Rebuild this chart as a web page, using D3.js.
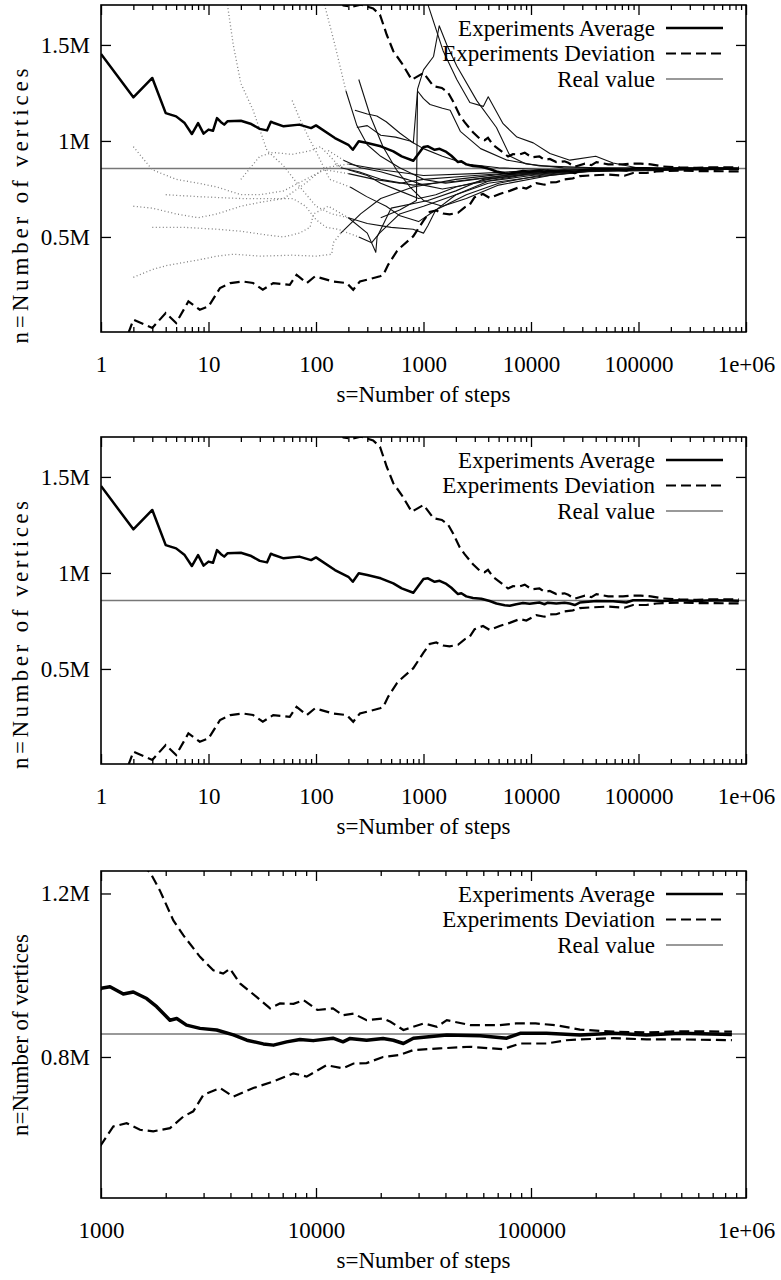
<!DOCTYPE html>
<html>
<head>
<meta charset="utf-8">
<script src="https://cdn.jsdelivr.net/npm/d3@7"></script>
<style>
  body { margin: 0; background: #fff; }
  svg { display: block; font-family: "Liberation Serif", "Times New Roman", serif; }
</style>
</head>
<body>
<svg id="chart"></svg>
<script>
const width = 781;
const height = 1280;
const left = 101;
const right = 746;
const plotH = 327;

// values in millions of vertices, s = number of steps
const realValue = 0.856;

const average = [
  [1, 1.453], [2, 1.227], [3, 1.328], [4, 1.145], [5, 1.128], [6, 1.093], [7, 1.036], [8, 1.093],
  [9, 1.038], [10, 1.059], [11, 1.053], [12, 1.119], [13, 1.099], [14, 1.085], [15, 1.102], [20, 1.105],
  [25, 1.088], [30, 1.063], [35, 1.055], [38, 1.10], [40, 1.095], [50, 1.076], [70, 1.085], [90, 1.067],
  [100, 1.081], [150, 1.015], [200, 0.980], [220, 0.954], [250, 0.998], [300, 0.989], [400, 0.972],
  [524, 0.946], [627, 0.920], [804, 0.897], [1000, 0.968], [1101, 0.972], [1270, 0.954], [1413, 0.959],
  [1631, 0.943], [1816, 0.923], [2093, 0.890], [2250, 0.894], [2500, 0.878], [2887, 0.870], [3450, 0.866],
  [4130, 0.854], [4767, 0.841], [5690, 0.832], [6340, 0.829], [7300, 0.837], [8420, 0.843], [9700, 0.840],
  [11990, 0.846], [13350, 0.837], [14340, 0.845], [17190, 0.841], [20500, 0.845], [22900, 0.841],
  [25500, 0.833], [28370, 0.846], [40600, 0.854], [58000, 0.852], [77100, 0.846], [89000, 0.858],
  [118000, 0.858], [169000, 0.854], [241700, 0.858], [345000, 0.854], [493000, 0.858], [860000, 0.855]
];

const deviationUpper = [
  [150, 1.80], [180, 1.705], [220, 1.70], [260, 1.71], [300, 1.70], [340, 1.69], [394, 1.657], [455, 1.553],
  [524, 1.467], [627, 1.406], [777, 1.319], [1000, 1.354], [1240, 1.285], [1483, 1.276], [1690, 1.252],
  [1880, 1.207], [2170, 1.134], [2413, 1.098], [2887, 1.045], [3330, 1.012], [3700, 1.004], [3980, 1.016],
  [4430, 0.980], [5290, 0.947], [6120, 0.919], [6800, 0.931], [7860, 0.930], [8750, 0.939], [10150, 0.915],
  [11990, 0.919], [13350, 0.902], [14950, 0.906], [17190, 0.890], [20500, 0.894], [22200, 0.886],
  [25500, 0.866], [31700, 0.882], [36500, 0.874], [40600, 0.890], [52200, 0.878], [71600, 0.878],
  [85000, 0.882], [105000, 0.882], [130000, 0.878], [169000, 0.867], [241700, 0.862], [345000, 0.860],
  [493000, 0.863], [860000, 0.862]
];

const deviationLower = [
  [1.8, 0.0], [2, 0.069], [3, 0.026], [4, 0.104], [5, 0.052], [6.5, 0.164], [8.3, 0.121], [10, 0.138],
  [12.8, 0.234], [16, 0.260], [21, 0.268], [26, 0.26], [32, 0.225], [40, 0.260], [57, 0.251], [66, 0.303],
  [82, 0.26], [98, 0.295], [144, 0.268], [193, 0.26], [222, 0.225], [256, 0.268], [394, 0.295], [423, 0.303],
  [470, 0.356], [564, 0.425], [605, 0.443], [804, 0.504], [1000, 0.585], [1141, 0.630], [1316, 0.638],
  [1518, 0.622], [1750, 0.618], [2093, 0.626], [2413, 0.654], [2686, 0.667], [2990, 0.707], [3580, 0.724],
  [4130, 0.703], [5110, 0.724], [6340, 0.740], [7860, 0.760], [9050, 0.752], [11210, 0.780], [13350, 0.772],
  [14950, 0.784], [17190, 0.785], [20500, 0.800], [24500, 0.805], [28400, 0.817], [37500, 0.821],
  [52200, 0.825], [74000, 0.819], [89000, 0.833], [118000, 0.833], [146000, 0.841], [169000, 0.843],
  [241700, 0.846], [345000, 0.843], [493000, 0.843], [860000, 0.841]
];

// single experiments (top panel only)
const exp1 = [[2, 0.29], [3, 0.33], [4, 0.35], [5, 0.36], [8, 0.38], [12, 0.40], [17, 0.41], [30, 0.40], [60, 0.405], [100, 0.40], [140, 0.41], [145, 0.47], [170, 0.52], [260, 0.62], [400, 0.70], [800, 0.76], [2000, 0.80], [6000, 0.83], [30000, 0.85], [200000, 0.855], [860000, 0.856]];
const exp2 = [[3, 0.55], [6, 0.55], [12, 0.54], [20, 0.53], [35, 0.51], [50, 0.50], [70, 0.52], [88, 0.55], [95, 0.62], [130, 0.66], [200, 0.60], [300, 0.52], [360, 0.42], [370, 0.50], [500, 0.65], [1100, 0.69], [2000, 0.74], [3600, 0.80], [10000, 0.83], [40000, 0.85], [860000, 0.855]];
const exp3 = [[4, 0.72], [8, 0.71], [20, 0.70], [40, 0.70], [61, 0.70], [80, 0.66], [100, 0.59], [125, 0.55], [160, 0.54], [250, 0.50], [330, 0.47], [390, 0.52], [600, 0.62], [1000, 0.66], [2000, 0.72], [4000, 0.78], [10000, 0.81], [30000, 0.84], [860000, 0.853]];
const exp4 = [[60, 1.21], [70, 1.12], [85, 1.02], [101, 0.94], [134, 0.80], [208, 0.76], [296, 0.71], [450, 0.66], [605, 0.61], [900, 0.58], [1300, 0.64], [2500, 0.72], [5000, 0.78], [12000, 0.82], [40000, 0.845], [860000, 0.856]];
const exp5 = [[250, 1.32], [320, 1.13], [420, 0.97], [560, 0.85], [750, 0.76], [1000, 0.69], [1500, 0.66], [2500, 0.70], [5000, 0.77], [15000, 0.82], [50000, 0.85], [860000, 0.857]];
const exp6 = [[240, 1.07], [300, 1.08], [400, 1.03], [550, 1.02], [750, 1.00], [1000, 0.96], [1500, 0.92], [2500, 0.88], [5000, 0.86], [15000, 0.85], [860000, 0.856]];
const exp7 = [[1100, 1.71], [1520, 1.47], [2040, 1.32], [2700, 1.20], [3600, 1.18], [4000, 1.23], [5500, 1.09], [7400, 1.02], [10500, 0.99], [15000, 0.935], [23000, 0.90], [40000, 0.92], [58000, 0.885], [120000, 0.85], [300000, 0.86], [860000, 0.858]];
const exp8 = [[400, 0.60], [600, 0.64], [860, 0.69], [880, 1.27], [1000, 1.37], [1240, 1.44], [1400, 1.60], [1650, 1.50], [2040, 1.39], [3130, 1.21], [4770, 1.07], [6400, 0.92], [9000, 0.88], [20000, 0.86], [860000, 0.856]];
const exp9 = [[230, 1.16], [300, 1.14], [368, 1.13], [450, 1.10], [605, 1.04], [804, 0.99], [880, 1.26], [1000, 1.22], [1150, 1.19], [1500, 1.17], [1770, 1.16], [2200, 1.05], [3400, 0.96], [6000, 0.90], [12000, 0.87], [40000, 0.86], [860000, 0.856]];
const exp10 = [[150, 0.88], [200, 0.85], [300, 0.82], [400, 0.78], [600, 0.74], [900, 0.70], [1300, 0.72], [2000, 0.76], [4000, 0.80], [10000, 0.83], [40000, 0.85], [860000, 0.856]];
const exp11 = [[130, 0.95], [180, 0.90], [260, 0.86], [400, 0.84], [700, 0.80], [1000, 0.77], [1500, 0.75], [3000, 0.78], [8000, 0.82], [30000, 0.845], [860000, 0.856]];
const exp12 = [[20, 0.80], [30, 0.92], [40, 0.94], [60, 0.93], [90, 0.95], [110, 0.97], [130, 0.93], [170, 0.86], [250, 0.84], [400, 0.80], [800, 0.77], [2000, 0.79], [8000, 0.83], [30000, 0.85], [860000, 0.856]];
const exp13 = [[15, 1.71], [17, 1.50], [20, 1.30], [26, 1.16], [35, 0.95], [50, 0.87], [71, 0.76], [100, 0.66], [140, 0.62], [200, 0.60], [300, 0.57], [500, 0.55], [800, 0.54], [1000, 0.52], [1100, 0.56], [1300, 0.64], [2000, 0.72], [4000, 0.79], [10000, 0.82], [40000, 0.85], [860000, 0.855]];
const exp14 = [[120, 1.71], [150, 1.50], [190, 1.26], [240, 1.08], [300, 0.98], [400, 0.92], [600, 0.86], [1000, 0.80], [1600, 0.78], [3000, 0.80], [8000, 0.83], [30000, 0.85], [860000, 0.857]];
const exp15 = [[2, 0.97], [3, 0.85], [5, 0.80], [8, 0.78], [12, 0.76], [20, 0.72], [30, 0.72], [50, 0.74], [80, 0.80], [120, 0.85], [200, 0.83], [350, 0.80], [600, 0.78], [1000, 0.80], [3000, 0.82], [10000, 0.84], [860000, 0.856]];
const exp16 = [[2, 0.66], [3, 0.65], [5, 0.62], [8, 0.60], [12, 0.62], [20, 0.66], [30, 0.68], [50, 0.70], [80, 0.78], [120, 0.86], [200, 0.88], [400, 0.85], [1000, 0.82], [3000, 0.83], [10000, 0.845], [860000, 0.856]];
const experiments = [exp1, exp2, exp3, exp4, exp5, exp6, exp7, exp8, exp9, exp10, exp11, exp12, exp13, exp14, exp15, exp16];

const legendLabels = ['Experiments Average', 'Experiments Deviation', 'Real value'];
const xTitle = 's=Number of steps';
const yTitle = 'n=Number of vertices';

const panels = [
  { top: 5, xDomain: [1, 1e6], yDomain: [0.005, 1.708], xTicks: [1, 10, 100, 1000, 10000, 100000, 1e6],
    yTicks: [0.5, 1, 1.5], showExperiments: true, titleCenter: 206, titleLength: 275, avgWidth: 2.5 },
  { top: 437, xDomain: [1, 1e6], yDomain: [0.005, 1.708], xTicks: [1, 10, 100, 1000, 10000, 100000, 1e6],
    yTicks: [0.5, 1, 1.5], showExperiments: false, titleCenter: 635, titleLength: 268, avgWidth: 2.5 },
  { top: 871, xDomain: [1000, 1e6], yDomain: [0.455, 1.255], xTicks: [1000, 10000, 100000, 1e6],
    yTicks: [0.8, 1.2], showExperiments: false, titleCenter: 1035, titleLength: null, avgWidth: 3.5 }
];

const xFormat = d => d === 1e6 ? '1e+06' : String(d);
const yFormat = d => d + 'M';

const svg = d3.select('#chart')
    .attr('width', width)
    .attr('height', height);

svg.append('rect').attr('width', width).attr('height', height).attr('fill', '#fff');

panels.forEach((p, i) => {
    const top = p.top;
    const bottom = top + plotH;
    const x = d3.scaleLog().domain(p.xDomain).range([left, right]);
    const y = d3.scaleLinear().domain(p.yDomain).range([bottom, top]);

    const clipId = 'clip' + i;
    svg.append('clipPath').attr('id', clipId)
        .append('rect')
        .attr('x', left).attr('y', top)
        .attr('width', right - left).attr('height', plotH);

    const g = svg.append('g');
    const plot = g.append('g').attr('clip-path', `url(#${clipId})`);

    const line = d3.line().x(d => x(d[0])).y(d => y(d[1]));

    // real value
    plot.append('line')
        .attr('x1', x(p.xDomain[0])).attr('x2', x(p.xDomain[1]))
        .attr('y1', y(realValue)).attr('y2', y(realValue))
        .attr('stroke', '#777').attr('stroke-width', 1.5);

    if (p.showExperiments) {
        experiments.forEach(pts => {
            let idx = pts.findIndex(d => d[0] > 160);
            if (idx < 0) idx = pts.length - 1;
            if (idx > 0) {
                plot.append('path')
                    .datum(pts.slice(0, idx + 1))
                    .attr('fill', 'none')
                    .attr('stroke', '#808080')
                    .attr('stroke-width', 1.3)
                    .attr('stroke-dasharray', '1,2.5')
                    .attr('d', line);
            }
            plot.append('path')
                .datum(pts.slice(idx))
                .attr('fill', 'none')
                .attr('stroke', '#111')
                .attr('stroke-width', 1.1)
                .attr('stroke-linejoin', 'round')
                .attr('d', line);
        });
    }

    [deviationUpper, deviationLower].forEach(dev => {
        plot.append('path')
            .datum(dev)
            .attr('fill', 'none')
            .attr('stroke', '#000')
            .attr('stroke-width', 2.2)
            .attr('stroke-dasharray', '10,5')
            .attr('d', line);
    });

    plot.append('path')
        .datum(average)
        .attr('fill', 'none')
        .attr('stroke', '#000')
        .attr('stroke-width', p.avgWidth)
        .attr('stroke-linejoin', 'round')
        .attr('d', line);

    // axes, gnuplot style: inward ticks mirrored on all sides
    const minor = x.ticks().filter(t => !p.xTicks.includes(t));

    const xAxis = g.append('g').attr('transform', `translate(0, ${bottom})`)
        .call(d3.axisBottom(x).tickValues(p.xTicks).tickFormat(xFormat).tickSizeInner(-10).tickSizeOuter(0));
    xAxis.selectAll('text').attr('dy', null).attr('y', 40);
    g.append('g').attr('transform', `translate(0, ${bottom})`)
        .call(d3.axisBottom(x).tickValues(minor).tickFormat('').tickSizeInner(-5).tickSizeOuter(0));
    g.append('g').attr('transform', `translate(0, ${top})`)
        .call(d3.axisTop(x).tickValues(p.xTicks).tickFormat('').tickSizeInner(-10).tickSizeOuter(0));
    g.append('g').attr('transform', `translate(0, ${top})`)
        .call(d3.axisTop(x).tickValues(minor).tickFormat('').tickSizeInner(-5).tickSizeOuter(0));

    const yAxis = g.append('g').attr('transform', `translate(${left}, 0)`)
        .call(d3.axisLeft(y).tickValues(p.yTicks).tickFormat(yFormat).tickSizeInner(-10).tickSizeOuter(0).tickPadding(11));
    g.append('g').attr('transform', `translate(${right}, 0)`)
        .call(d3.axisRight(y).tickValues(p.yTicks).tickFormat('').tickSizeInner(-10).tickSizeOuter(0));

    g.selectAll('.domain').remove();
    g.selectAll('.tick line').attr('stroke', '#000').attr('stroke-width', 1.3);
    g.selectAll('.tick text')
        .attr('font-family', '"Liberation Serif", "Times New Roman", serif')
        .attr('font-size', 23)
        .attr('fill', '#000');
    yAxis.selectAll('text').attr('dy', '0.32em');

    g.append('rect')
        .attr('x', left).attr('y', top)
        .attr('width', right - left).attr('height', plotH)
        .attr('fill', 'none').attr('stroke', '#000').attr('stroke-width', 1.6);

    // titles
    g.append('text')
        .attr('x', (left + right) / 2).attr('y', bottom + 70)
        .attr('text-anchor', 'middle')
        .attr('font-size', 23)
        .text(xTitle);

    const yt = g.append('text')
        .attr('transform', `translate(28, ${p.titleCenter}) rotate(-90)`)
        .attr('text-anchor', 'middle')
        .attr('font-size', 23)
        .text(yTitle);
    if (p.titleLength) yt.attr('textLength', p.titleLength).attr('lengthAdjust', 'spacing');

    // legend
    const legendStyles = [
        { w: 2.5, dash: null, c: '#000' },
        { w: 2.2, dash: '10,5', c: '#000' },
        { w: 1.5, dash: null, c: '#777' }
    ];
    const legendOffsets = [23, 48.5, 74];
    legendLabels.forEach((lab, k) => {
        const ly = top + legendOffsets[k];
        g.append('text')
            .attr('x', 655).attr('y', ly + 7.5)
            .attr('text-anchor', 'end')
            .attr('font-size', 23)
            .text(lab);
        g.append('line')
            .attr('x1', 666).attr('x2', 723)
            .attr('y1', ly).attr('y2', ly)
            .attr('stroke', legendStyles[k].c)
            .attr('stroke-width', legendStyles[k].w)
            .attr('stroke-dasharray', legendStyles[k].dash);
    });
});
</script>
</body>
</html>
